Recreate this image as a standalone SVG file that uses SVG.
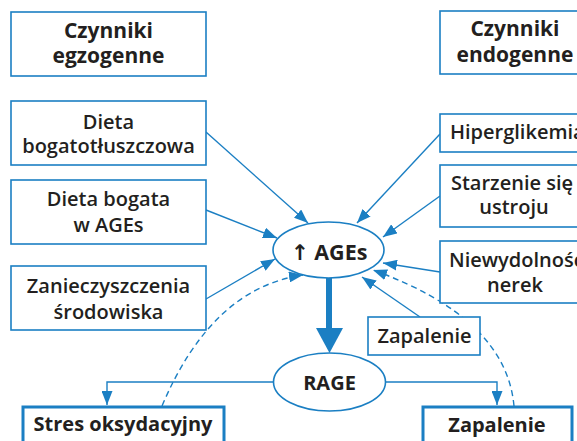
<svg xmlns="http://www.w3.org/2000/svg" width="577" height="441" viewBox="0 0 577 441">
<defs>
<style>
.box{fill:#fff;stroke:#1b7fc3;stroke-width:1.6}
.tbox{fill:#fff;stroke:#1b7fc3;stroke-width:3}
.ell{fill:#fff;stroke:#1b7fc3;stroke-width:1.6}
.ln{fill:none;stroke:#1b7fc3;stroke-width:1.4}
.dash{fill:none;stroke:#1b7fc3;stroke-width:1.4;stroke-dasharray:6 4}
text{font-family:"Open Sans","Noto Sans","DejaVu Sans",sans-serif;fill:#231f20;text-anchor:middle}
.h{font-size:21px;font-weight:700}
.b{font-size:20px;font-weight:700}
.t{font-size:20px;font-weight:600}
.e{font-size:21.5px;font-weight:700}
.s{text-anchor:start}
</style>
<marker id="ah" viewBox="0 0 14 11" refX="14" refY="5.5" markerWidth="14" markerHeight="11" markerUnits="userSpaceOnUse" orient="auto">
<path d="M0,0L14,5.5L0,11z" fill="#1b7fc3"/>
</marker>
</defs>
<rect width="577" height="441" fill="#fff"/>
<g id="connectors">
<line class="ln" x1="206" y1="132" x2="308" y2="223" marker-end="url(#ah)"/>
<line class="ln" x1="206" y1="210" x2="277" y2="238" marker-end="url(#ah)"/>
<line class="ln" x1="206" y1="299" x2="275" y2="259" marker-end="url(#ah)"/>
<path class="dash" d="M162,406 Q212,288 303,275" marker-end="url(#ah)"/>
<line class="ln" x1="440" y1="134" x2="357" y2="223" marker-end="url(#ah)"/>
<line class="ln" x1="440" y1="196" x2="383" y2="237" marker-end="url(#ah)"/>
<line class="ln" x1="440" y1="272" x2="383" y2="263" marker-end="url(#ah)"/>
<line class="ln" x1="420" y1="317" x2="362" y2="277" marker-end="url(#ah)"/>
<path class="dash" d="M514,406 Q506,318 373,270" marker-end="url(#ah)"/>
<path class="ln" d="M273,382H107V405" marker-end="url(#ah)"/>
<path class="ln" d="M386,382H497V405" marker-end="url(#ah)"/>
<rect x="326" y="278" width="6" height="52" fill="#1b7fc3"/>
<path d="M316,328L343,328L329.5,353z" fill="#1b7fc3"/>
</g>
<g id="egzogenne"><rect class="box" x="11" y="12" width="195" height="64"/><text class="h" x="108.5" y="38">Czynniki</text><text class="h" x="108.5" y="63">egzogenne</text></g>
<g id="dieta-tluszcz"><rect class="box" x="11" y="101" width="195" height="64"/><text class="t" x="108.5" y="129">Dieta</text><text class="t" x="108.5" y="153">bogatotłuszczowa</text></g>
<g id="dieta-ages"><rect class="box" x="11" y="180" width="195" height="64"/><text class="t" x="108.5" y="206">Dieta bogata</text><text class="t" x="108.5" y="232">w AGEs</text></g>
<g id="zanieczyszczenia"><rect class="box" x="11" y="266" width="195" height="64"/><text class="t" x="108.5" y="293">Zanieczyszczenia</text><text class="t" x="108.5" y="319">środowiska</text></g>
<g id="stres"><rect class="tbox" x="23" y="407" width="201" height="50"/><text class="b" x="123" y="431">Stres oksydacyjny</text></g>
<g id="endogenne"><rect class="box" x="440" y="11" width="150" height="63"/><text class="h" x="515" y="36">Czynniki</text><text class="h" x="515" y="62">endogenne</text></g>
<g id="hiperglikemia"><rect class="box" x="440" y="114" width="150" height="38"/><text class="t s" x="450" y="139">Hiperglikemia</text></g>
<g id="starzenie"><rect class="box" x="440" y="165" width="150" height="62"/><text class="t" x="512" y="190">Starzenie się</text><text class="t" x="514" y="214">ustroju</text></g>
<g id="niewydolnosc"><rect class="box" x="440" y="241" width="150" height="62"/><text class="t s" x="449" y="267">Niewydolność</text><text class="t" x="515" y="292">nerek</text></g>
<g id="zapalenie-maly"><rect class="box" x="368" y="317" width="112" height="38"/><text class="t" x="424.5" y="343">Zapalenie</text></g>
<g id="zapalenie"><rect class="tbox" x="423" y="407" width="149" height="50"/><text class="b" x="497" y="432">Zapalenie</text></g>
<g id="ages"><ellipse class="ell" cx="328.5" cy="250" rx="55.5" ry="28"/><text class="e" x="329" y="260">↑ AGEs</text></g>
<g id="rage"><ellipse class="ell" cx="329.5" cy="382" rx="56" ry="29"/><text class="b" x="329.5" y="390">RAGE</text></g>
</svg>
